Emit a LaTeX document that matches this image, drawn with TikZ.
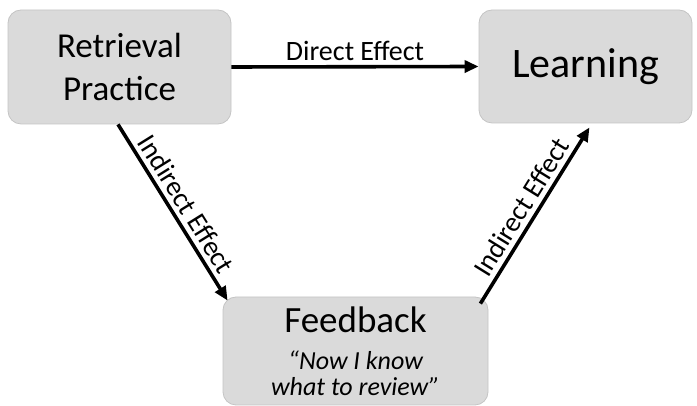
\documentclass[tikz,border=0pt]{standalone}
\usepackage{fontspec}
\setmainfont{Carlito}
\usetikzlibrary{arrows.meta}
\definecolor{boxfill}{HTML}{DADADA}
\definecolor{boxline}{HTML}{C4C4C4}
\begin{document}
\begin{tikzpicture}[x=1pt,y=1pt,
  box/.style={draw=boxline, fill=boxfill, rounded corners=13pt, line width=0.8pt, align=center, inner sep=0pt},
  arr/.style={line width=3.6pt, -{Triangle[length=14pt,width=12pt]}},
  lab/.style={font=\fontsize{28}{30}\selectfont, inner sep=4.5pt}]
\useasboundingbox (0,0) rectangle (697,406);
\node[box, minimum width=223pt, minimum height=114pt, font=\fontsize{35}{43}\selectfont] (rp) at (119.5,339) {Retrieval\\Practice};
\node[box, minimum width=213pt, minimum height=113pt, font=\fontsize{42}{48}\selectfont] (le) at (585.5,339.5) {Learning};
\node[box, minimum width=265pt, minimum height=108pt, font=\fontsize{26}{26}\selectfont] (fb) at (355.5,55)
  {{\fontsize{37}{37}\selectfont Feedback}\\[11pt]{\itshape “Now I know}\\{\itshape what to review”}};
\draw[arr] (rp.east) -- node[lab, above] {Direct Effect} (le.west);
\draw[arr] ([xshift=-1.5pt]rp.south) -- node[lab, sloped, above] {Indirect Effect} ([xshift=5pt,yshift=-4pt]fb.north west);
\draw[arr] ([xshift=-8pt,yshift=-7pt]fb.north east) -- node[lab, sloped, above] {Indirect Effect} ([xshift=4pt,yshift=-4pt]le.south);
\end{tikzpicture}
\end{document}
